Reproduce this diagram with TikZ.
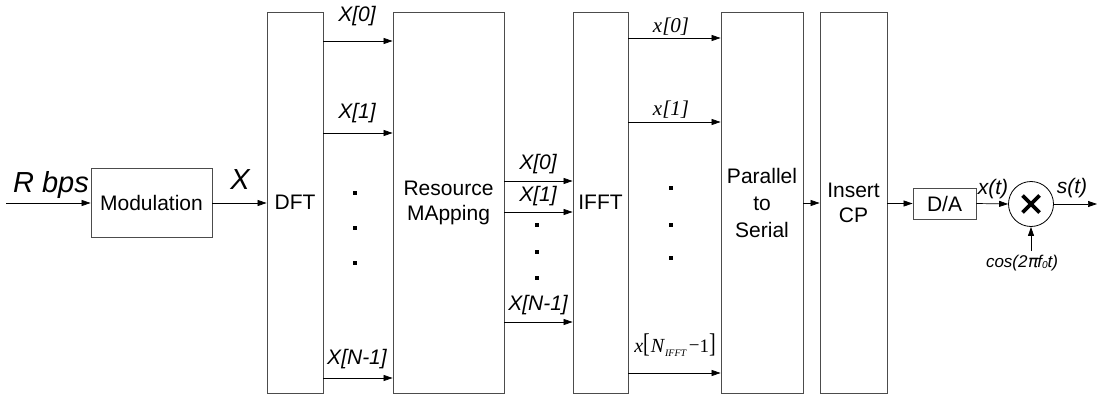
\documentclass[tikz,border=0pt]{standalone}
\usepackage{fontspec}
\usepackage{graphicx}
\setmainfont{Liberation Sans}
\newfontfamily\tms{Liberation Serif}
\usetikzlibrary{arrows.meta}
\tikzset{
  blk/.style={draw=gray!60!black, line width=0.8pt, inner sep=0pt, align=center, font=\fontsize{21}{25}\selectfont},
  arr/.style={-{Triangle[length=9pt,width=6pt]}, line width=0.7pt, black},
  lbl/.style={font=\fontsize{21}{24}\selectfont\itshape, inner sep=0pt},
  tlbl/.style={font=\fontsize{21}{24}\selectfont\tms\itshape, inner sep=0pt},
  dotsq/.style={fill=black, draw=none, minimum size=4.5pt, inner sep=0pt, rectangle}
}
\begin{document}
\begin{tikzpicture}[x=1pt,y=-1pt]
\useasboundingbox (0,0) rectangle (1097,401);
% blocks
\node[blk, minimum width=121pt, minimum height=69pt] (mod) at (151.5,202.5) {Modulation};
\node[blk, minimum width=56pt, minimum height=381pt] (dft) at (295,202.5) {DFT};
\node[blk, minimum width=111pt, minimum height=381pt] (res) at (448.5,202.5) {Resource\\MApping};
\node[blk, minimum width=55pt, minimum height=381pt] (ifft) at (600.5,202.5) {IFFT};
\node[blk, minimum width=82pt, minimum height=381pt] (ps) at (762,202.5) {Parallel\\[2pt]to\\[2pt]Serial};
\node[blk, minimum width=67pt, minimum height=381pt] (cp) at (853.5,202.5) {Insert\\CP};
\node[blk, minimum width=63pt, minimum height=31pt] (da) at (944.5,203.5) {D/A};
\node[draw=black, line width=0.8pt, circle, minimum size=45pt, inner sep=0pt] (mul) at (1031,204) {};
\draw[line width=3.6pt] (1022.5,195.5) -- (1039.5,212.5);
\draw[line width=3.6pt] (1022.5,212.5) -- (1039.5,195.5);
% input / output
\coordinate (in) at (6,203);
\coordinate (out) at (1097,204);
\draw[arr] (in) -- (mod.west |- in);
\node[lbl, font=\fontsize{29}{32}\selectfont\itshape, anchor=east] (rbps) at (89,185) {R bps};
\draw[arr] (mod.east |- 0,203) -- (dft.west |- 0,203);
\node[lbl, font=\fontsize{29}{32}\selectfont\itshape] (xlab) at (240,180) {X};
% DFT -> Resource
\draw[arr] (dft.east |- 0,41) -- (res.west |- 0,41);
\draw[arr] (dft.east |- 0,133) -- (res.west |- 0,133);
\draw[arr] (dft.east |- 0,378) -- (res.west |- 0,378);
\node[lbl] (a0) at (357,16) {X[0]};
\node[lbl] (a1) at (357,113) {X[1]};
\node[lbl] (an) at (357,359) {X[N-1]};
\node[dotsq] (d1) at (355,193) {};
\node[dotsq] (d2) at (355,228) {};
\node[dotsq] (d3) at (355,263) {};
% Resource -> IFFT
\draw[arr] (res.east |- 0,181) -- (ifft.west |- 0,181);
\draw[arr] (res.east |- 0,212) -- (ifft.west |- 0,212);
\draw[arr] (res.east |- 0,322) -- (ifft.west |- 0,322);
\node[lbl] (b0) at (538,164) {X[0]};
\node[lbl] (b1) at (538,196) {X[1]};
\node[lbl] (bn) at (538,305) {X[N-1]};
\node[dotsq, minimum size=4pt] (e1) at (537,225) {};
\node[dotsq, minimum size=4pt] (e2) at (537,252) {};
\node[dotsq, minimum size=4pt] (e3) at (537,278) {};
% IFFT -> Parallel
\draw[arr] (ifft.east |- 0,38) -- (ps.west |- 0,38);
\draw[arr] (ifft.east |- 0,122) -- (ps.west |- 0,122);
\draw[arr] (ifft.east |- 0,373) -- (ps.west |- 0,373);
\node[tlbl] (c0) at (671,27) {x[0]};
\node[tlbl] (c1) at (671,110) {x[1]};
\node[tlbl, font=\fontsize{20}{24}\selectfont\tms] (cn) at (675,345) {\textit{x}\scalebox{1}[1.35]{[}\kern1pt\textit{N}\raisebox{-0.45ex}{\fontsize{10}{12}\selectfont\textit{IFFT}}\kern2pt{\fontsize{19}{22}\selectfont\raisebox{0.1ex}{−}1}\scalebox{1}[1.35]{]}};
\node[dotsq] (f1) at (671,188) {};
\node[dotsq] (f2) at (671,225) {};
\node[dotsq] (f3) at (671,258) {};
% Parallel -> CP -> D/A -> mult
\draw[arr] (ps.east |- 0,203) -- (cp.west |- 0,203);
\draw[arr] (cp.east |- da.west) -- (da.west);
\draw[arr] (da.east) -- (mul.west);
\node[lbl] (xt) at (993,189) {x(t)};
\draw[arr] (mul.east) -- (out);
\node[lbl] (st) at (1072,188) {s(t)};
\node[lbl, font=\fontsize{17}{20}\selectfont\itshape] (cosl) at (1022,263) {cos(2\kern0.5pt{\fontspec{DejaVu Sans}\itshape π}\kern-1pt f\raisebox{-0.1ex}{\fontsize{10}{12}\selectfont 0}t)};
\coordinate (cosa) at (1031,251);
\draw[arr] (cosa) -- (mul.south);
\end{tikzpicture}
\end{document}
